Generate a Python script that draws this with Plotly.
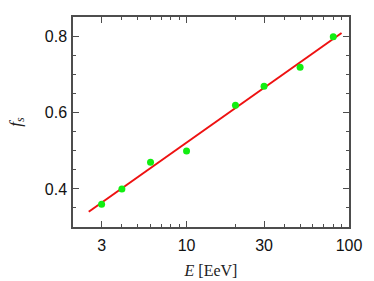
import plotly.graph_objects as go

energy = [3, 4, 6, 10, 20, 30, 50, 80]
fs = [0.36, 0.40, 0.47, 0.50, 0.62, 0.67, 0.72, 0.80]
fit_energy = [2.5, 90]
fit_fs = [0.34, 0.81]

x_ticks = [3, 10, 30, 100]
x_tick_text = ["3", "10", "30", "100"]
x_minor = [2, 4, 5, 6, 7, 8, 9, 20, 40, 50, 60, 70, 80, 90]
y_ticks = [0.4, 0.6, 0.8]
y_tick_text = ["0.4", "0.6", "0.8"]

fig = go.Figure()
fig.add_trace(go.Scatter(x=fit_energy, y=fit_fs, mode="lines",
                         line=dict(color="#ee1111", width=2), showlegend=False))
fig.add_trace(go.Scatter(x=energy, y=fs, mode="markers",
                         marker=dict(color="#11ee11", size=7), showlegend=False))

axis_common = dict(showline=True, linecolor="#4d4d4d", linewidth=1.5, mirror="allticks",
                   ticks="inside", ticklen=6, tickcolor="#4d4d4d", tickwidth=1.2,
                   showgrid=False, zeroline=False, automargin=False,
                   tickfont=dict(family="Liberation Sans, Arial, sans-serif", size=16, color="#111111"))

fig.update_xaxes(type="log", range=[0.30103, 2.0], tickvals=x_ticks, ticktext=x_tick_text,
                 ticklabelstandoff=3,
                 minor=dict(tickvals=x_minor, ticks="inside", ticklen=3, tickcolor="#4d4d4d", showgrid=False),
                 title=dict(text="<i>E</i> [EeV]", standoff=12,
                            font=dict(family="Liberation Serif, Times New Roman, serif", size=16, color="#222222")),
                 **axis_common)
fig.update_yaxes(range=[0.3, 0.852], tickvals=y_ticks, ticktext=y_tick_text,
                 ticklabelstandoff=1,
                 minor=dict(dtick=0.05, ticks="inside", ticklen=3, tickcolor="#4d4d4d", showgrid=False),
                 title=dict(text="<i>f<sub>s</sub></i>", standoff=19,
                            font=dict(family="Liberation Serif, Times New Roman, serif", size=17, color="#222222")),
                 **axis_common)

fig.update_layout(width=374, height=281, margin=dict(l=73, r=25, t=17, b=54),
                  plot_bgcolor="white", paper_bgcolor="white")
fig.write_html("out.html", config={"displayModeBar": False},
               post_script="document.body.style.margin='0';document.body.style.overflow='hidden';")
